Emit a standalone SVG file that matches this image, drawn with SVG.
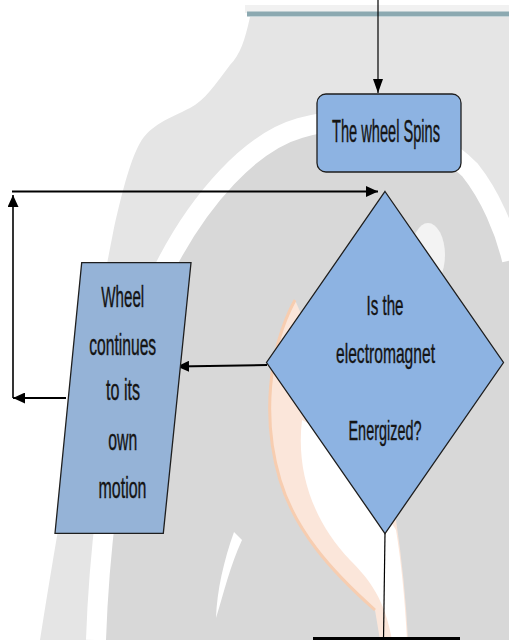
<svg xmlns="http://www.w3.org/2000/svg" width="509" height="640" viewBox="0 0 509 640">
  <defs>
    <marker id="arr" markerUnits="userSpaceOnUse" markerWidth="12" markerHeight="11" refX="12" refY="5.5" orient="auto">
      <path d="M0,0 L12,5.5 L0,11 Z" fill="#000"/>
    </marker>
    <marker id="arrThin" markerUnits="userSpaceOnUse" markerWidth="14" markerHeight="10" refX="14" refY="5" orient="auto">
      <path d="M0,0 L14,5 L0,10 Z" fill="#000"/>
    </marker>
    <style>
      .node { stroke: #1e1e1e; stroke-width: 1.3; }
      .blue { fill: #8db3e2; }
      .pblue { fill: #95b3d7; }
      .lbl { font-family: "Liberation Sans", Arial, sans-serif; fill: #141414; stroke: #141414; stroke-width: 0.4; text-anchor: middle; }
      .conn { stroke: #000; fill: none; }
    </style>
  </defs>

  <!-- background / watermark -->
  <g id="background">
    <rect x="0" y="0" width="509" height="640" fill="#ffffff"/>
    <rect x="245" y="5" width="264" height="8" fill="#f1f1f1"/>
    <path d="M250,17 L509,17 L509,640 L40,640 C70,450 100,300 113,233 C120,200 130,160 140,143 C150,125 170,118 190,108 C205,100 215,85 230,65 C240,55 245,40 250,17 Z" fill="#e5e5e5"/>
    <path d="M96,640 C100,520 125,340 167,263 C200,200 250,142 300,128 C360,110 430,130 470,170 C490,195 505,230 512,260 L509,640 Z" fill="#d8d8d8"/>
    <path d="M96,640 C100,520 125,340 167,263 C200,200 250,142 300,128 C360,110 430,130 470,170 C490,195 505,230 512,260" fill="none" stroke="#ffffff" stroke-width="20"/>
    <ellipse cx="428" cy="255" rx="17" ry="32" fill="#f3f3f3"/>
    <path d="M234,532 C224,560 217,590 216,618 C224,592 230,566 242,540 Z" fill="#ffffff"/>
    <path d="M295,300 C268,350 262,420 280,480 C295,530 330,570 375,610 L380,640 L408,640 C406,600 402,560 396,520 L330,380 Z" fill="#fbe6da"/>
    <path d="M302,420 C296,470 312,520 350,560 C370,580 385,600 392,640 L407,640 C405,600 401,560 396,530 L340,440 Z" fill="#ffffff"/>
    <path d="M295,300 C268,350 262,420 280,480 C295,530 330,570 375,610" fill="none" stroke="#f7cdb0" stroke-width="3"/>
    <rect x="247" y="11.5" width="262" height="5" fill="#8ca9b1"/>
  </g>

  <!-- connectors -->
  <g id="connectors">
    <line class="conn" x1="378" y1="0" x2="378" y2="93" stroke-width="1.2" marker-end="url(#arrThin)"/>
    <line class="conn" x1="12" y1="191.5" x2="378" y2="191.5" stroke-width="2" marker-end="url(#arr)"/>
    <line class="conn" x1="13" y1="398" x2="13" y2="195" stroke-width="1.6" marker-end="url(#arr)"/>
    <line class="conn" x1="66" y1="398" x2="13" y2="398" stroke-width="2" marker-end="url(#arr)"/>
    <line class="conn" x1="267" y1="365" x2="177" y2="366.5" stroke-width="2" marker-end="url(#arr)"/>
    <line class="conn" x1="385" y1="533" x2="383.5" y2="640" stroke-width="1.2"/>
  </g>

  <!-- nodes -->
  <g id="node-spins">
    <rect class="node blue" x="317" y="94" width="144" height="78" rx="9" ry="9"/>
    <text class="lbl" transform="translate(386,142) scale(0.5,1)" x="0" y="0" font-size="31" textLength="216" lengthAdjust="spacingAndGlyphs">The wheel Spins</text>
  </g>

  <g id="node-decision">
    <polygon class="node blue" points="385,191.5 503.5,362.5 385,533.5 266.5,362.5"/>
    <text class="lbl" transform="translate(385,315) scale(0.6,1)" x="0" y="0" font-size="27" textLength="61.7" lengthAdjust="spacingAndGlyphs">Is the</text>
    <text class="lbl" transform="translate(385.5,362.5) scale(0.6,1)" x="0" y="0" font-size="27" textLength="165" lengthAdjust="spacingAndGlyphs">electromagnet</text>
    <text class="lbl" transform="translate(385,440) scale(0.6,1)" x="0" y="0" font-size="27" textLength="121.7" lengthAdjust="spacingAndGlyphs">Energized?</text>
  </g>

  <g id="node-continues">
    <polygon class="node pblue" points="81.7,262.7 191,262.7 163.3,533.3 55,533.3"/>
    <text class="lbl" transform="translate(122.7,306.7) scale(0.55,1)" x="0" y="0" font-size="29" textLength="78.2" lengthAdjust="spacingAndGlyphs">Wheel</text>
    <text class="lbl" transform="translate(122.7,355) scale(0.55,1)" x="0" y="0" font-size="29" textLength="121.8" lengthAdjust="spacingAndGlyphs">continues</text>
    <text class="lbl" transform="translate(123,400) scale(0.55,1)" x="0" y="0" font-size="29" textLength="61.8" lengthAdjust="spacingAndGlyphs">to its</text>
    <text class="lbl" transform="translate(122.7,450) scale(0.55,1)" x="0" y="0" font-size="29" textLength="52.7" lengthAdjust="spacingAndGlyphs">own</text>
    <text class="lbl" transform="translate(122.5,498) scale(0.55,1)" x="0" y="0" font-size="29" textLength="87.3" lengthAdjust="spacingAndGlyphs">motion</text>
  </g>

  <g id="node-next">
    <rect x="313" y="637" width="147" height="3" fill="#000"/>
  </g>
</svg>
